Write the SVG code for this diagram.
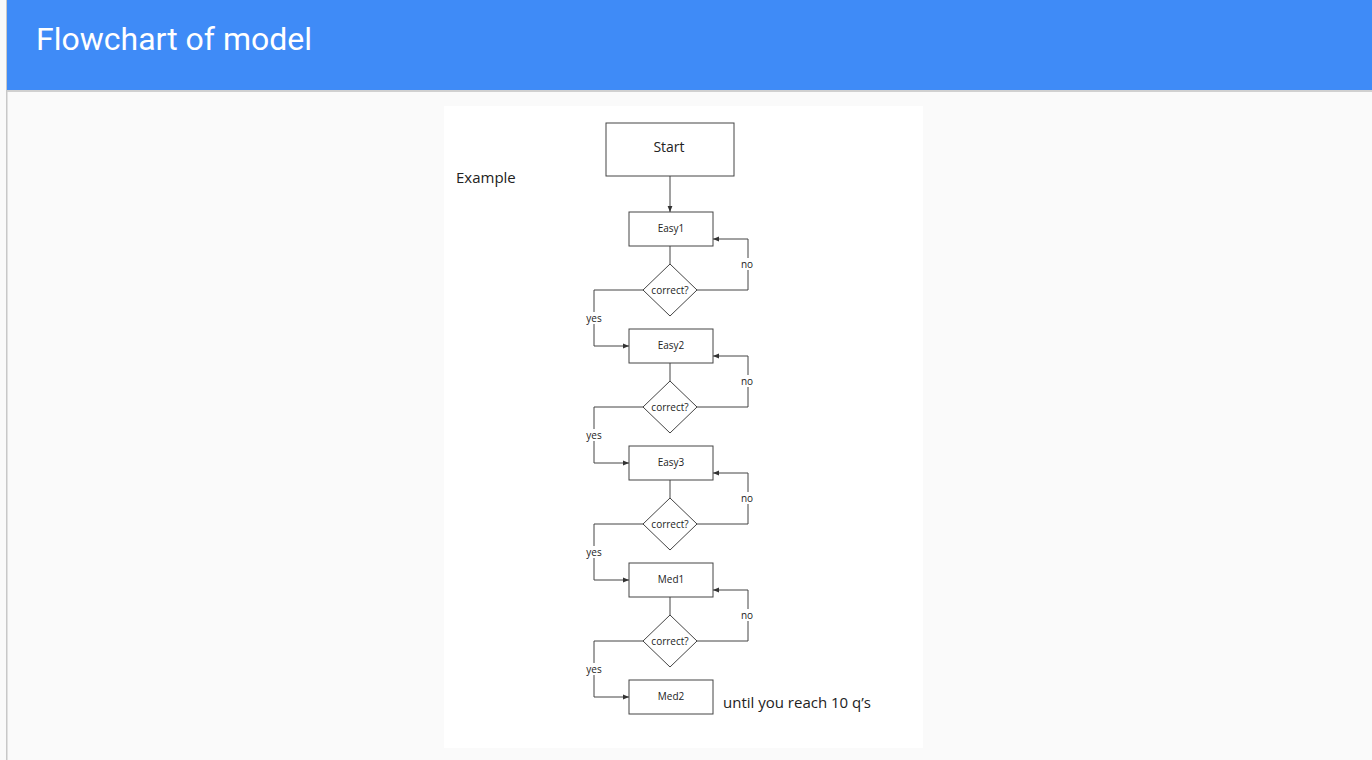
<svg xmlns="http://www.w3.org/2000/svg" width="1372" height="760" viewBox="0 0 1372 760">
<style>
.b{fill:#fff;stroke:#444;stroke-width:1}
.t{font-family:"Open Sans","DejaVu Sans",sans-serif;fill:#222;text-anchor:middle}
.s{font-size:10px}
.c path{fill:none;stroke:#444;stroke-width:1}
.lb{fill:#fff}
</style>
<defs><marker id="a" viewBox="0 0 10 10" refX="10" refY="5" markerWidth="6" markerHeight="6" orient="auto"><path d="M0,1L10,5L0,9z" fill="#333"/></marker></defs>
<rect width="1372" height="760" fill="#FAFAFA"/>
<rect x="6" y="0" width="1.5" height="760" fill="#c8c8c8"/>
<rect x="7" y="0" width="1365" height="92" fill="#d0d0d0"/>
<rect x="7" y="0" width="1365" height="90" fill="#3F8BF7"/>
<text x="36" y="50" font-family="Roboto,sans-serif" font-size="32" fill="#fff">Flowchart of model</text>
<rect x="444" y="106" width="479" height="642" fill="#fff"/>
<text x="456" y="183" font-family="'Open Sans',sans-serif" font-size="15" fill="#222">Example</text>
<text x="723" y="708" font-family="'Open Sans',sans-serif" font-size="15" fill="#222">until you reach 10 q’s</text>
<g class="c">
<path d="M670,176V212" marker-end="url(#a)"/>
<path d="M670,246V264M643,290H594V346H629" marker-end="url(#a)"/>
<path d="M697,290H748V239H713" marker-end="url(#a)"/>
<path d="M670,363V381M643,407H594V463H629" marker-end="url(#a)"/>
<path d="M697,407H748V356H713" marker-end="url(#a)"/>
<path d="M670,480V498M643,524H594V580H629" marker-end="url(#a)"/>
<path d="M697,524H748V473H713" marker-end="url(#a)"/>
<path d="M670,597V615M643,641H594V697H629" marker-end="url(#a)"/>
<path d="M697,641H748V590H713" marker-end="url(#a)"/>
</g>
<g id="labels">
<rect class="lb" x="583" y="312" width="22" height="12"/><text class="t s" x="594" y="322">yes</text>
<rect class="lb" x="583" y="429" width="22" height="12"/><text class="t s" x="594" y="439">yes</text>
<rect class="lb" x="583" y="546" width="22" height="12"/><text class="t s" x="594" y="556">yes</text>
<rect class="lb" x="583" y="663" width="22" height="12"/><text class="t s" x="594" y="673">yes</text>
<rect class="lb" x="738" y="258" width="20" height="12"/><text class="t s" x="747" y="268">no</text>
<rect class="lb" x="738" y="375" width="20" height="12"/><text class="t s" x="747" y="385">no</text>
<rect class="lb" x="738" y="492" width="20" height="12"/><text class="t s" x="747" y="502">no</text>
<rect class="lb" x="738" y="609" width="20" height="12"/><text class="t s" x="747" y="619">no</text>
</g>
<g id="start"><rect class="b" x="606" y="123" width="128" height="53"/><text class="t" x="669" y="152" font-size="14">Start</text></g>
<g id="easy1"><rect class="b" x="629" y="212" width="84" height="34"/><text class="t s" x="671" y="232">Easy1</text></g>
<g id="d1"><path class="b" d="M670,264L697,290L670,316L643,290z"/><text class="t s" x="670" y="294">correct?</text></g>
<g id="easy2"><rect class="b" x="629" y="329" width="84" height="34"/><text class="t s" x="671" y="349">Easy2</text></g>
<g id="d2"><path class="b" d="M670,381L697,407L670,433L643,407z"/><text class="t s" x="670" y="411">correct?</text></g>
<g id="easy3"><rect class="b" x="629" y="446" width="84" height="34"/><text class="t s" x="671" y="466">Easy3</text></g>
<g id="d3"><path class="b" d="M670,498L697,524L670,550L643,524z"/><text class="t s" x="670" y="528">correct?</text></g>
<g id="med1"><rect class="b" x="629" y="563" width="84" height="34"/><text class="t s" x="671" y="583">Med1</text></g>
<g id="d4"><path class="b" d="M670,615L697,641L670,667L643,641z"/><text class="t s" x="670" y="645">correct?</text></g>
<g id="med2"><rect class="b" x="629" y="680" width="84" height="34"/><text class="t s" x="671" y="700">Med2</text></g>
</svg>
